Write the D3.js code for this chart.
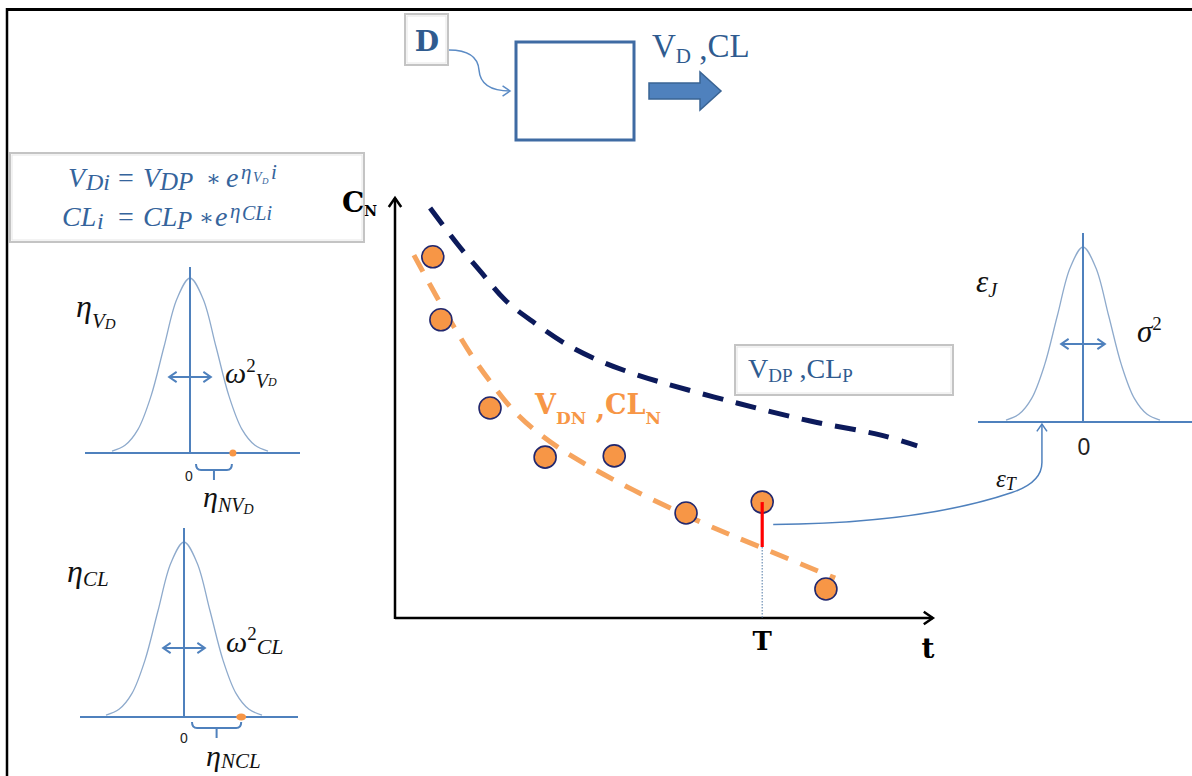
<!DOCTYPE html>
<html>
<head>
<meta charset="utf-8">
<script src="https://cdn.jsdelivr.net/npm/d3@7"></script>
<style>
  body { margin: 0; background: #fff; }
  text { white-space: pre; }
</style>
</head>
<body>
<div id="fig"></div>
<script>
// observed concentrations (time, conc) in plot units 0..100
const obsT = [7.0, 8.5, 17.6, 27.8, 40.6, 53.9, 68.0, 79.8];
const obsC = [86.0, 71.0, 50.0, 38.3, 38.6, 25.0, 27.6, 6.9];
// individual prediction curve (V_DN, CL_N)
const indT = [3.5, 9.3, 14.4, 18.1, 22.4, 27.0, 33.3, 44.1, 56.5, 67.6, 81.5];
const indC = [86.4, 72.9, 62.1, 55.5, 48.8, 43.6, 38.1, 30.5, 22.9, 16.9, 9.5];
// population prediction curve (V_DP, CL_P)
const popT = [6.5, 11.7, 15.9, 20.4, 25.9, 31.7, 37.6, 43.9, 50.4, 63.3, 76.9, 89.8, 96.7];
const popC = [97.6, 88.8, 82.4, 75.7, 70.2, 65.2, 61.4, 58.3, 55.7, 51.2, 46.9, 43.6, 41.0];
// residual at time T
const tT = 68.0, tObs = 27.6, tPred = 16.9;
// bell profile (sd units, relative height)
const bellZ = [-3, -2.5, -2, -1.5, -1, -0.5, 0, 0.5, 1, 1.5, 2, 2.5, 3];
const bellH = [0.011, 0.044, 0.135, 0.325, 0.607, 0.882, 1, 0.882, 0.607, 0.325, 0.135, 0.044, 0.011];
// individual random effects, sd units
const etaVD = 1.65, etaCL = 2.2, epsT = -1.6;

const blueText = "#2f5b8f", lineBlue = "#4f81bd", bellStroke = "#8eaacc";
const orange = "#f79646", orangeDash = "#f6a45e", navy = "#0c1a5b";
const serif = "'Liberation Serif', 'DejaVu Serif', serif";
const bold = "'DejaVu Serif', serif";
const sans = "'Liberation Sans', Arial, sans-serif";

const svg = d3.select("#fig").append("svg").attr("width", 1192).attr("height", 776);

// page frame
svg.append("line").attr("x1", 6).attr("x2", 1192).attr("y1", 9.5).attr("y2", 9.5).attr("stroke", "#000").attr("stroke-width", 3);
svg.append("line").attr("x1", 7).attr("x2", 7).attr("y1", 8).attr("y2", 776).attr("stroke", "#000").attr("stroke-width", 2.5);

// helper for text with sub/superscripts: o = baseline offset, x = optional absolute x
function rich(x, y, parts, fill, family, anchor) {
    const t = svg.append("text").attr("x", x).attr("y", y).attr("fill", fill)
        .style("font-family", family).attr("text-anchor", anchor || "start");
    let prev = 0;
    parts.forEach(p => {
        const o = p.o || 0;
        const ts = t.append("tspan").attr("dy", o - prev).style("font-size", p.s + "px")
            .style("font-style", p.i ? "italic" : "normal")
            .style("font-weight", p.b ? "bold" : "normal").text(p.t);
        if (p.x !== undefined) ts.attr("x", p.x);
        prev = o;
    });
    return t;
}

function chevron(x, y, ang, size, color, w) {
    const a = ang * Math.PI / 180, s = size;
    const p = d3.path();
    p.moveTo(x - s * Math.cos(a - 0.6), y - s * Math.sin(a - 0.6));
    p.lineTo(x, y);
    p.lineTo(x - s * Math.cos(a + 0.6), y - s * Math.sin(a + 0.6));
    svg.append("path").attr("d", p.toString()).attr("fill", "none").attr("stroke", color)
        .attr("stroke-width", w).attr("stroke-linejoin", "miter");
}

function grayBox(x, y, w, h) {
    svg.append("rect").attr("x", x).attr("y", y).attr("width", w).attr("height", h)
        .attr("fill", "#fff").attr("stroke", "#c4c4c4").attr("stroke-width", 2);
    svg.append("rect").attr("x", x + 2).attr("y", y + 2).attr("width", w - 4).attr("height", h - 4)
        .attr("fill", "none").attr("stroke", "#e6e6e6").attr("stroke-width", 1);
}

// ---------- top: dose -> model -> parameters ----------
grayBox(405, 14, 43, 51);
svg.append("text").attr("x", 427).attr("y", 51).attr("text-anchor", "middle").attr("fill", blueText)
    .style("font-family", bold).style("font-weight", "bold").style("font-size", "28px").text("D");
svg.append("path").attr("d", "M449,50 C470,50 478,58 479,70 C480,83 490,91 510,91")
    .attr("fill", "none").attr("stroke", "#5b8bc5").attr("stroke-width", 1.5);
chevron(510, 91, 0, 9, "#5b8bc5", 1.5);
svg.append("rect").attr("x", 516).attr("y", 42).attr("width", 118).attr("height", 98)
    .attr("fill", "#fff").attr("stroke", "#3f6ba3").attr("stroke-width", 3);
svg.append("path").attr("d", "M649,83 L700,83 L700,72 L721,91 L700,110 L700,99 L649,99 Z")
    .attr("fill", lineBlue).attr("stroke", "#3a6494").attr("stroke-width", 1.5);
rich(652, 57, [{t: "V", s: 33}, {t: "D", s: 21, o: 6}, {t: " ,", s: 33, o: 3}, {t: "CL", s: 33}], blueText, serif);

// ---------- formula box ----------
grayBox(10, 153, 354, 89);
const fc = "#35649c";
rich(68, 187, [
    {t: "V", s: 28, i: 1, x: 68}, {t: "Di", s: 24, i: 1, o: 3, x: 86},
    {t: "=", s: 28, o: 0, x: 118}, {t: "V", s: 28, i: 1, x: 143}, {t: "DP", s: 25, i: 1, o: 3, x: 160},
    {t: "∗", s: 22, o: -1, x: 206}, {t: "e", s: 28, i: 1, o: 0, x: 226},
    {t: "η", s: 21, i: 1, o: -8, x: 241}, {t: "V", s: 14, i: 1, o: -5, x: 253}, {t: "D", s: 9, i: 1, o: -3, x: 262},
    {t: "i", s: 21, i: 1, o: -8, x: 271}
], fc, serif);
rich(62, 226, [
    {t: "CL", s: 28, i: 1, x: 62}, {t: "i", s: 24, i: 1, o: 3, x: 97},
    {t: "=", s: 28, o: 0, x: 118}, {t: "CL", s: 28, i: 1, x: 143}, {t: "P", s: 25, i: 1, o: 3, x: 177},
    {t: "∗", s: 22, o: -1, x: 199}, {t: "e", s: 28, i: 1, o: 0, x: 215},
    {t: "η", s: 21, i: 1, o: -8, x: 230}, {t: "CLi", s: 20, i: 1, o: -6, x: 242}
], fc, serif);

// ---------- bell curves ----------
function bell(cx, base, peak, halfW, bx0, bx1, vtop, arrowY, arrowZ) {
    const bx = d3.scaleLinear().domain([-3, 3]).range([cx - halfW, cx + halfW]);
    const by = d3.scaleLinear().domain([0, 1]).range([base, peak]);
    const line = d3.line().x((d, i) => bx(bellZ[i])).y(d => by(d)).curve(d3.curveCatmullRom);
    svg.append("path").attr("d", line(bellH)).attr("fill", "none").attr("stroke", bellStroke).attr("stroke-width", 1.3);
    svg.append("line").attr("x1", bx0).attr("x2", bx1).attr("y1", base).attr("y2", base).attr("stroke", lineBlue).attr("stroke-width", 2);
    svg.append("line").attr("x1", cx).attr("x2", cx).attr("y1", vtop).attr("y2", base).attr("stroke", lineBlue).attr("stroke-width", 2);
    svg.append("line").attr("x1", bx(-arrowZ)).attr("x2", bx(arrowZ)).attr("y1", arrowY).attr("y2", arrowY).attr("stroke", lineBlue).attr("stroke-width", 2);
    chevron(bx(arrowZ), arrowY, 0, 9, lineBlue, 2);
    chevron(bx(-arrowZ), arrowY, 180, 9, lineBlue, 2);
    return bx;
}
function brace(x0, x1, y0) {
    const mid = (x0 + x1) / 2, y1 = y0 + 6;
    svg.append("path").attr("d", `M${x0},${y0} Q${x0},${y1} ${x0 + 5},${y1} L${x1 - 5},${y1} Q${x1},${y1} ${x1},${y0} M${mid},${y1} L${mid},${y1 + 10}`)
        .attr("fill", "none").attr("stroke", lineBlue).attr("stroke-width", 2);
}

// eta V_D
const bxV = bell(190, 453, 278, 78, 85, 300, 267, 377, 0.8);
svg.append("circle").attr("cx", bxV(etaVD)).attr("cy", 453).attr("r", 3.5).attr("fill", orange);
brace(bxV(0) + 6, bxV(etaVD) - 1, 464);
svg.append("text").attr("x", 189).attr("y", 481).attr("text-anchor", "middle").attr("fill", "#222")
    .style("font-family", sans).style("font-size", "14px").text("0");
rich(76, 317, [{t: "η", s: 32, i: 1}, {t: "V", s: 21, i: 1, o: 11}, {t: "D", s: 15, i: 1, o: 12}], "#111", serif);
rich(225, 383, [{t: "ω", s: 30, i: 1}, {t: "2", s: 19, o: -11}, {t: "V", s: 20, i: 1, o: 5}, {t: "D", s: 12, i: 1, o: 3}], "#111", serif);
rich(203, 507, [{t: "η", s: 30, i: 1}, {t: "NV", s: 20, i: 1, o: 5}, {t: "D", s: 14, i: 1, o: 7}], "#111", serif);

// eta CL
const bxC = bell(184, 717, 542, 78, 80, 298, 528, 648, 0.8);
svg.append("ellipse").attr("cx", bxC(etaCL)).attr("cy", 717).attr("rx", 5).attr("ry", 3.5).attr("fill", orange);
brace(bxC(0) + 8, bxC(etaCL), 722);
svg.append("text").attr("x", 184).attr("y", 743).attr("text-anchor", "middle").attr("fill", "#222")
    .style("font-family", sans).style("font-size", "14px").text("0");
rich(67, 582, [{t: "η", s: 32, i: 1}, {t: "CL", s: 21, i: 1, o: 4}], "#111", serif);
rich(226, 652, [{t: "ω", s: 30, i: 1}, {t: "2", s: 19, o: -12}, {t: "CL", s: 22, i: 1, o: 2}], "#111", serif);
rich(206, 766, [{t: "η", s: 30, i: 1}, {t: "NCL", s: 21, i: 1, o: 2}], "#111", serif);

// epsilon
const bxE = bell(1083, 422, 247, 77, 978, 1192, 233, 344, 0.85);
svg.append("text").attr("x", 1084).attr("y", 455).attr("text-anchor", "middle").attr("fill", "#222")
    .style("font-family", sans).style("font-size", "23px").text("0");
rich(976, 292, [{t: "ε", s: 31, i: 1}, {t: "J", s: 20, i: 1, o: 5}], "#111", serif);
rich(1137, 342, [{t: "σ", s: 31, i: 1}, {t: "2", s: 19, o: -12}], "#111", serif);

// ---------- main concentration-time plot ----------
const x = d3.scaleLinear().domain([0, 100]).range([395, 935]);
const y = d3.scaleLinear().domain([0, 100]).range([618, 198]);

svg.append("line").attr("x1", x(0)).attr("x2", x(0)).attr("y1", y(0) + 1).attr("y2", y(100)).attr("stroke", "#000").attr("stroke-width", 2.5);
svg.append("line").attr("x1", x(0)).attr("x2", x(99.6)).attr("y1", y(0)).attr("y2", y(0)).attr("stroke", "#000").attr("stroke-width", 2.5);
chevron(x(0), y(100), -90, 11, "#000", 2.5);
chevron(x(99.6), y(0), 0, 11, "#000", 2.5);
rich(342, 212, [{t: "C", s: 28, b: 1}, {t: "N", s: 14, b: 1, o: 4}], "#000", bold);
svg.append("text").attr("x", 928).attr("y", 658).attr("text-anchor", "middle").style("font-family", bold)
    .style("font-weight", "bold").style("font-size", "28px").text("t");
svg.append("text").attr("x", x(tT)).attr("y", 650).attr("text-anchor", "middle").style("font-family", bold)
    .style("font-weight", "bold").style("font-size", "26px").text("T");

const curve = d3.line().x(d => x(d[0])).y(d => y(d[1])).curve(d3.curveCatmullRom);
svg.append("path").attr("d", curve(popT.map((t, i) => [t, popC[i]])))
    .attr("fill", "none").attr("stroke", navy).attr("stroke-width", 5).attr("stroke-dasharray", "21,13");
svg.append("path").attr("d", curve(indT.map((t, i) => [t, indC[i]])))
    .attr("fill", "none").attr("stroke", orangeDash).attr("stroke-width", 5).attr("stroke-dasharray", "19,13");

// dotted drop line at T and residual
svg.append("line").attr("x1", x(tT)).attr("x2", x(tT)).attr("y1", y(tPred)).attr("y2", y(0))
    .attr("stroke", "#6d8fb5").attr("stroke-width", 1.2).attr("stroke-dasharray", "1.5,1.5");

svg.selectAll("circle.obs").data(obsT).join("circle").attr("class", "obs")
    .attr("cx", d => x(d)).attr("cy", (d, i) => y(obsC[i])).attr("r", 11)
    .attr("fill", orange).attr("stroke", "#22286e").attr("stroke-width", 1.6);

svg.append("line").attr("x1", x(tT)).attr("x2", x(tT)).attr("y1", y(tObs)).attr("y2", y(tPred))
    .attr("stroke", "#ff0000").attr("stroke-width", 3.2);

rich(535, 414, [{t: "V", s: 27, b: 1}, {t: "DN", s: 17, b: 1, o: 10}, {t: " ,", s: 27, b: 1, o: 4}, {t: "CL", s: 27, b: 1, o: 0}, {t: "N", s: 17, b: 1, o: 10}], orange, bold);

// population parameter label
grayBox(735, 345, 218, 50);
rich(748, 378, [{t: "V", s: 28}, {t: "DP", s: 19, o: 4}, {t: " ,", s: 28, o: 0}, {t: "CL", s: 28}, {t: "P", s: 19, o: 4}], blueText, serif);

// residual to epsilon distribution connector
const sx = x(tT) + 11, sy = (y(tObs) + y(tPred)) / 2, ex = bxE(epsT);
svg.append("path").attr("d", `M${sx},${sy} C${sx + 110},${sy - 1} ${ex - 80},${sy - 15} ${ex - 30},${sy - 32} Q${ex},${sy - 42} ${ex},${sy - 62} L${ex},424`)
    .attr("fill", "none").attr("stroke", lineBlue).attr("stroke-width", 1.5);
chevron(ex, 424, -90, 9, lineBlue, 1.5);
rich(996, 487, [{t: "ε", s: 25, i: 1}, {t: "T", s: 18, i: 1, o: 3}], "#111", serif);
</script>
</body>
</html>
